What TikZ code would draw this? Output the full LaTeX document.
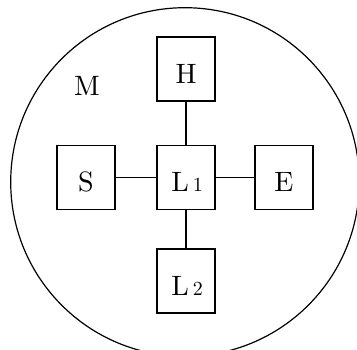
\documentclass[tikz,border=0pt]{standalone}
\usepackage{tikz}
\font\bigrm=cmr10 at 28pt
\font\smallrm=cmr10 at 20pt
\begin{document}
\begin{tikzpicture}[x=1pt,y=1pt,
  box/.style={draw,line width=1.2pt,minimum width=58pt,minimum height=64pt,inner sep=0pt,text height=29pt,text depth=0pt,font=\bigrm},
  conn/.style={line width=1.2pt},
  lbl/.style={font=\bigrm,inner sep=0pt}]
\clip (0,0) rectangle (357,-350);
\useasboundingbox (0,0) rectangle (357,-350);
\draw[line width=1.2pt] (185,-182) circle (174.3);
\node[box] (L1) at (186,-177.5) {\hspace{2pt}L\hspace{4pt}{\smallrm 1}};
\node[box] (H) at (186,-69) {H};
\node[box] (S) at (86,-177.5) {S};
\node[box] (E) at (284,-177.5) {E};
\node[box] (L2) at (186,-281) {\hspace{2pt}L\hspace{4pt}{\smallrm 2}};
\node[lbl] (M) at (87,-86) {M};
\draw[conn] (L1) -- (H);
\draw[conn] (L1) -- (S);
\draw[conn] (L1) -- (E);
\draw[conn] (L1) -- (L2);
\end{tikzpicture}
\end{document}
